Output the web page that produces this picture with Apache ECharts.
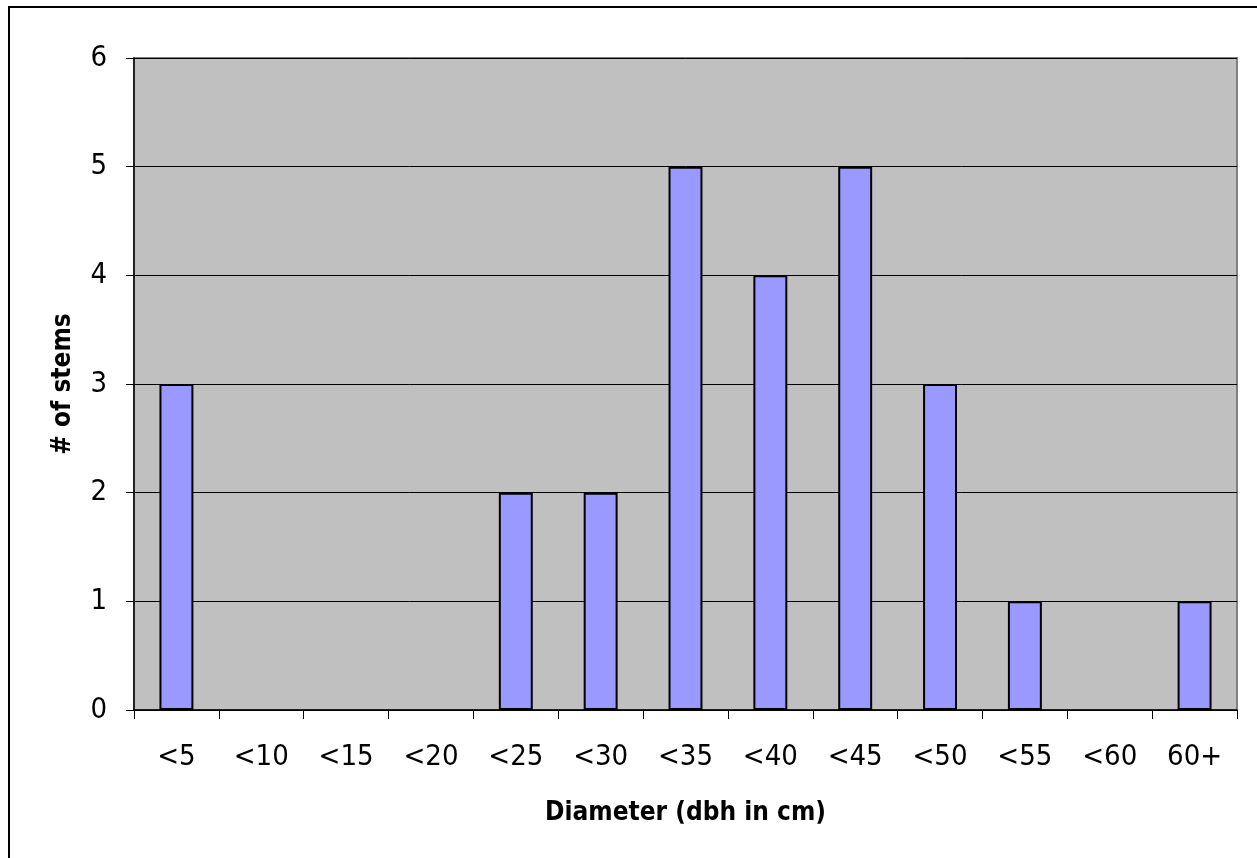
<!DOCTYPE html>
<html><head><meta charset="utf-8">
<script src="https://cdn.jsdelivr.net/npm/echarts@6/dist/echarts.min.js"></script>
<style>
html,body{margin:0;padding:0;background:#fff;}
#frame{position:absolute;left:8px;top:6px;width:1260px;height:870px;border:2px solid #000;box-sizing:border-box;}
#c{position:absolute;left:0;top:0;width:1257px;height:858px;}
</style></head>
<body>
<div id="frame"></div>
<div id="c"></div>
<script>
const categories = ['<5','<10','<15','<20','<25','<30','<35','<40','<45','<50','<55','<60','60+'];
const stems = [3,0,0,0,2,2,5,4,5,3,1,0,1];
const xTitle = 'Diameter (dbh in cm)';
const yTitle = '# of stems';
const font = '"DejaVu Sans Condensed","Liberation Sans Narrow",sans-serif';
const chart = echarts.init(document.getElementById('c'), null, {renderer:'canvas'});
chart.setOption({
  animation:false,
  grid:{left:134,right:20,top:58,bottom:148,show:true,backgroundColor:'#C0C0C0',borderColor:'#808080',borderWidth:2},
  xAxis:{type:'category',data:categories,
    axisLine:{lineStyle:{color:'#000',width:1.5}},
    axisTick:{show:true,length:9,lineStyle:{color:'#000'}},
    axisLabel:{color:'#000',fontFamily:font,fontSize:29,margin:33},
    name:xTitle,nameLocation:'middle',nameGap:90,
    nameTextStyle:{color:'#000',fontFamily:font,fontWeight:'bold',fontSize:26}},
  yAxis:{type:'value',min:0,max:6,interval:1,
    axisLine:{show:true,lineStyle:{color:'#000',width:1.5}},
    axisTick:{show:true,length:8,lineStyle:{color:'#000'}},
    axisLabel:{color:'#000',fontFamily:font,fontSize:29,margin:27},
    splitLine:{lineStyle:{color:'#000',width:1}},
    name:yTitle,nameLocation:'middle',nameGap:58,nameRotate:90,
    nameTextStyle:{color:'#000',fontFamily:font,fontWeight:'bold',fontSize:26}},
  series:[{type:'bar',data:stems.map(v => v === 0 ? null : v),barCategoryGap:'60%',
    itemStyle:{color:'#9999FF',borderColor:'#000',borderWidth:2}}]
});
</script>
</body></html>
